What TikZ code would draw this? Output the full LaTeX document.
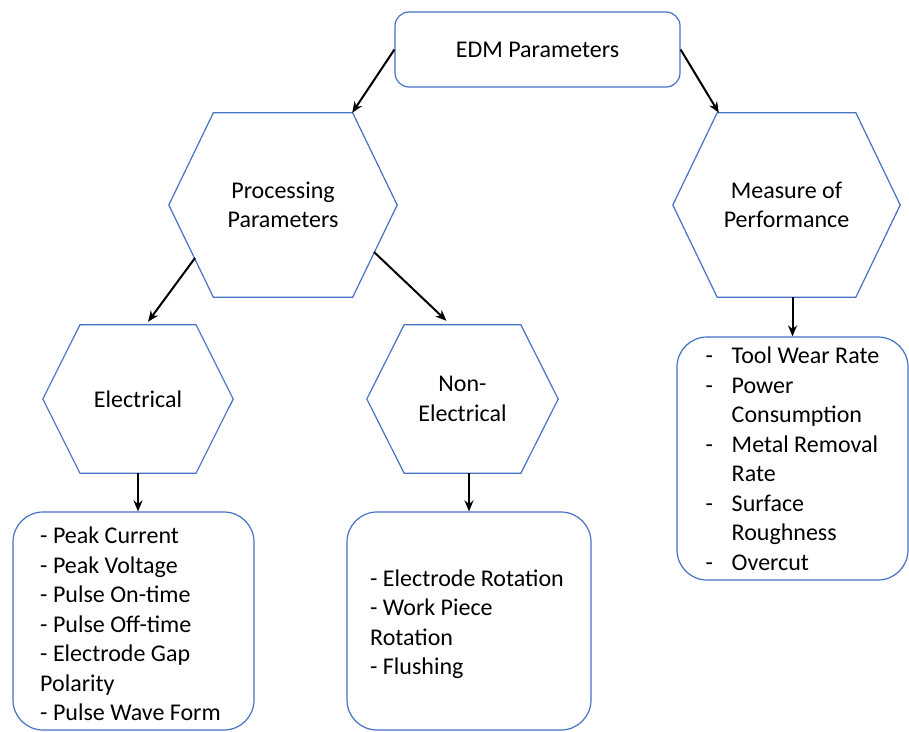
\documentclass[tikz,border=0pt]{standalone}
\usepackage{fontspec}
\setmainfont{Carlito}
\usetikzlibrary{calc,arrows.meta}
\definecolor{wordblue}{HTML}{4472C4}
\tikzset{
  every node/.style={font=\fontsize{24}{29.5}\selectfont, text=black},
  hexline/.style={draw=wordblue, line width=1.2pt},
  hexnode/.style n args={2}{inner sep=0pt, minimum width=#1, minimum height=#2, align=center,
    append after command={\pgfextra{\let\LN\tikzlastnode
      \draw[hexline] (\LN.west) -- ($(\LN.north west)!0.195!(\LN.north east)$)
        -- ($(\LN.north east)!0.195!(\LN.north west)$) -- (\LN.east)
        -- ($(\LN.south east)!0.195!(\LN.south west)$)
        -- ($(\LN.south west)!0.195!(\LN.south east)$) -- cycle;}}},
  roundbox/.style n args={3}{draw=wordblue, line width=1.2pt, rounded corners=#3, inner sep=0pt,
    minimum width=#1, minimum height=#2},
  listtext/.style={align=left, inner sep=0pt},
  conn/.style={draw=black, line width=2pt, -{Stealth[length=11pt,width=9pt]}}
}
\begin{document}
\begin{tikzpicture}[x=1pt,y=-1pt]
\useasboundingbox (0,0) rectangle (909,731);
\fill[white] (0,0) rectangle (909,731);

\node[roundbox={285pt}{75pt}{14pt}] (edm) at (537.5,49.5) {EDM Parameters};

\node[hexnode={228pt}{184pt}] (proc) at (283,205) {Processing\\Parameters};
\node[hexnode={227pt}{184pt}] (meas) at (786.5,205) {Measure of\\Performance};
\node[hexnode={190pt}{148pt}] (elec) at (138,399) {Electrical};
\node[hexnode={191pt}{148pt}] (nonel) at (462.5,399) {Non-\\Electrical};

\node[roundbox={241pt}{218pt}{30pt}] (elecbox) at (133.5,621) {};
\node[listtext] (electext) at ($(elecbox.center)+(-3,3)$)
  {- Peak Current\\- Peak Voltage\\- Pulse On-time\\- Pulse Off-time\\- Electrode Gap\\Polarity\\- Pulse Wave Form};
\node[roundbox={244pt}{218pt}{30pt}] (nonelbox) at (469,621) {};
\node[listtext] (noneltext) at ($(nonelbox.center)+(-2,3)$)
  {- Electrode Rotation\\- Work Piece\\Rotation\\- Flushing};
\node[roundbox={231pt}{243pt}{30pt}, align=left] (measbox) at (792.5,458.5)
  {\makebox[26pt][l]{-}Tool Wear Rate\\\makebox[26pt][l]{-}Power\\\hspace*{26pt}Consumption\\\makebox[26pt][l]{-}Metal Removal\\\hspace*{26pt}Rate\\\makebox[26pt][l]{-}Surface\\\hspace*{26pt}Roughness\\\makebox[26pt][l]{-}Overcut};

\draw[conn] (edm.west) -- ($(proc.north east)+(-45,0)$);
\draw[conn] (edm.east) -- ($(meas.north west)+(46,0)$);
\draw[conn] ($(proc.center)+(-88,53)$) -- ($(elec.north)+(10,-3)$);
\draw[conn] ($(proc.center)+(91,47)$) -- ($(nonel.north)+(-16,-4)$);
\draw[conn] (elec.south) -- (elec.south |- elecbox.north);
\draw[conn] (nonelbox.north |- nonel.south) -- (nonelbox.north);
\draw[conn] (measbox.north |- meas.south) -- (measbox.north);
\end{tikzpicture}
\end{document}
